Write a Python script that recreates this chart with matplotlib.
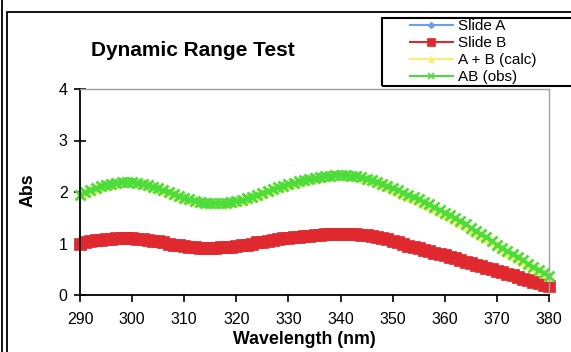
import matplotlib
matplotlib.use("Agg")
import matplotlib.pyplot as plt
from matplotlib.lines import Line2D
from matplotlib.patches import Rectangle

plt.rcParams["font.family"] = ["Liberation Sans", "DejaVu Sans"]

# wavelengths 290..380 nm, 1 nm steps
wavelength = list(range(290, 381))

slide_a = [
    1.00, 1.02, 1.04, 1.06, 1.08, 1.09, 1.10, 1.11, 1.11, 1.11,
    1.11, 1.10, 1.09, 1.07, 1.05, 1.04, 1.02, 1.00, 0.98, 0.97,
    0.95, 0.94, 0.93, 0.92, 0.92, 0.92, 0.92, 0.93, 0.93, 0.94,
    0.95, 0.97, 0.98, 1.00, 1.02, 1.03, 1.05, 1.07, 1.08, 1.10,
    1.11, 1.12, 1.13, 1.14, 1.15, 1.16, 1.17, 1.18, 1.19, 1.20,
    1.20, 1.20, 1.19, 1.18, 1.17, 1.16, 1.14, 1.12, 1.10, 1.08,
    1.05, 1.02, 0.99, 0.96, 0.94, 0.91, 0.88, 0.85, 0.82, 0.80,
    0.77, 0.74, 0.71, 0.68, 0.65, 0.62, 0.59, 0.56, 0.53, 0.50,
    0.47, 0.44, 0.41, 0.38, 0.35, 0.32, 0.29, 0.26, 0.23, 0.20,
    0.17,
]
slide_b = [
    1.00, 1.02, 1.04, 1.06, 1.07, 1.08, 1.09, 1.10, 1.10, 1.10,
    1.10, 1.09, 1.08, 1.07, 1.05, 1.04, 1.02, 1.00, 0.98, 0.97,
    0.95, 0.94, 0.93, 0.92, 0.92, 0.92, 0.92, 0.93, 0.93, 0.94,
    0.95, 0.97, 0.98, 1.00, 1.02, 1.03, 1.05, 1.07, 1.08, 1.10,
    1.11, 1.12, 1.13, 1.14, 1.15, 1.16, 1.17, 1.18, 1.18, 1.19,
    1.19, 1.19, 1.19, 1.18, 1.17, 1.16, 1.14, 1.12, 1.10, 1.08,
    1.05, 1.02, 0.99, 0.96, 0.93, 0.91, 0.88, 0.85, 0.82, 0.80,
    0.77, 0.74, 0.71, 0.68, 0.65, 0.62, 0.59, 0.56, 0.53, 0.50,
    0.47, 0.44, 0.41, 0.38, 0.35, 0.32, 0.29, 0.26, 0.23, 0.20,
    0.18,
]
a_plus_b = [
    1.96, 2.00, 2.04, 2.08, 2.11, 2.14, 2.16, 2.18, 2.19, 2.19,
    2.19, 2.17, 2.15, 2.13, 2.10, 2.07, 2.03, 2.00, 1.96, 1.92,
    1.89, 1.86, 1.83, 1.81, 1.79, 1.78, 1.78, 1.78, 1.79, 1.80,
    1.82, 1.85, 1.88, 1.91, 1.95, 1.98, 2.02, 2.05, 2.09, 2.12,
    2.15, 2.18, 2.21, 2.23, 2.25, 2.27, 2.29, 2.31, 2.32, 2.33,
    2.33, 2.33, 2.32, 2.31, 2.29, 2.26, 2.23, 2.19, 2.15, 2.11,
    2.06, 2.02, 1.97, 1.93, 1.88, 1.84, 1.79, 1.74, 1.69, 1.63,
    1.58, 1.53, 1.47, 1.41, 1.35, 1.29, 1.23, 1.17, 1.11, 1.04,
    0.97, 0.91, 0.84, 0.78, 0.72, 0.66, 0.60, 0.54, 0.48, 0.42,
    0.36,
]
ab_obs = [
    1.95, 2.00, 2.04, 2.08, 2.11, 2.14, 2.16, 2.18, 2.19, 2.19,
    2.19, 2.17, 2.15, 2.13, 2.10, 2.07, 2.03, 2.00, 1.96, 1.92,
    1.89, 1.86, 1.83, 1.81, 1.79, 1.78, 1.78, 1.78, 1.79, 1.80,
    1.82, 1.85, 1.88, 1.91, 1.95, 1.98, 2.02, 2.05, 2.09, 2.12,
    2.15, 2.18, 2.21, 2.23, 2.25, 2.27, 2.29, 2.31, 2.32, 2.33,
    2.33, 2.33, 2.32, 2.31, 2.29, 2.26, 2.23, 2.19, 2.15, 2.11,
    2.07, 2.03, 1.99, 1.95, 1.90, 1.86, 1.81, 1.76, 1.71, 1.65,
    1.60, 1.55, 1.49, 1.43, 1.37, 1.31, 1.24, 1.18, 1.12, 1.05,
    0.98, 0.92, 0.86, 0.79, 0.73, 0.67, 0.61, 0.55, 0.49, 0.43,
    0.37,
]

# label, values, colour, marker, marker size in plot, marker size in legend
series = [
    ("Slide A", slide_a, "#6a9cf0", "D", 4.5, 3.5),
    ("Slide B", slide_b, "#e0282f", "s", 8.0, 6.0),
    ("A + B (calc)", a_plus_b, "#f5ee6e", "^", 7.0, 5.0),
    ("AB (obs)", ab_obs, "#4cdc3c", "x", 7.0, 4.5),
]

fig = plt.figure(figsize=(5.71, 3.52), dpi=100)
ax = fig.add_axes([80 / 571, 57 / 352, 469 / 571, 206 / 352])

handles = []
for label, values, color, marker, ms, lms in series:
    mew = 2.0 if marker == "x" else 0.5
    ax.plot(wavelength, values, color=color, lw=2, marker=marker,
            markersize=ms, markeredgewidth=mew, markeredgecolor=color,
            clip_on=False)
    handles.append(Line2D([], [], color=color, lw=1.5, marker=marker,
                          markersize=lms, markeredgecolor=color,
                          markeredgewidth=1.2 if marker == "x" else 0.5))

ax.set_xlim(290, 380)
ax.set_ylim(0, 4)
ax.set_xticks(range(290, 381, 10))
ax.set_yticks(range(0, 5))
for side in ("left", "bottom"):
    ax.spines[side].set_color("black")
    ax.spines[side].set_linewidth(1.3)
for side in ("top", "right"):
    ax.spines[side].set_color("#a0a0a0")
    ax.spines[side].set_linewidth(1.0)
ax.tick_params(axis="x", direction="out", length=5, width=1.2, pad=7, labelsize=11.5)
ax.tick_params(axis="y", direction="inout", length=8, width=1.2, pad=5, labelsize=11.5)

fig.text(193 / 571, 1 - 56 / 352, "Dynamic Range Test", ha="center", va="baseline",
         fontsize=15, fontweight="bold")
fig.text(304 / 571, 1 - 339 / 352, "Wavelength (nm)", ha="center", va="center",
         fontsize=12.8, fontweight="bold")
fig.text(28 / 571, 1 - 190 / 352, "Abs", ha="center", va="center", rotation=90,
         fontsize=12.8, fontweight="bold")

# outer chart frame
fig.add_artist(Line2D([2 / 571, 2 / 571], [0, 1], color="black", lw=1.3,
                      transform=fig.transFigure))
fig.add_artist(Rectangle((7 / 571, -0.1), 1.0, 1 - 12 / 352 + 0.1, fill=False,
                         edgecolor="black", lw=1.3, transform=fig.transFigure))

# legend box
fig.add_artist(Rectangle((382 / 571, 1 - 86 / 352), 0.4, 68 / 352, fill=False,
                         edgecolor="black", lw=1.5, transform=fig.transFigure))
fig.legend(handles, [s[0] for s in series], loc="upper left",
           bbox_to_anchor=(410 / 571, 1 - 19 / 352), frameon=False, fontsize=11,
           borderpad=0, borderaxespad=0, handlelength=2.8, handletextpad=0.35,
           labelspacing=0.2)

fig.savefig("out.png", dpi=100)
